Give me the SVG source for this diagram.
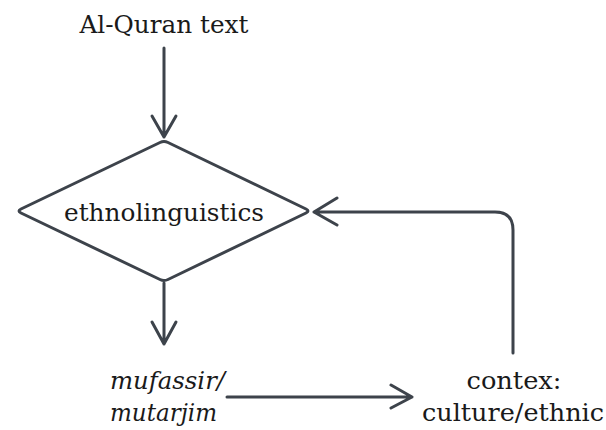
<svg xmlns="http://www.w3.org/2000/svg" width="606" height="430" viewBox="0 0 606 430">
<style>
.c{fill:none;stroke:#3d434b;stroke-width:3;stroke-linecap:round;stroke-linejoin:round}
text{font-family:'DejaVu Serif',serif;font-size:24px;fill:#1a1a1a}
.i{font-style:italic}
</style>
<rect width="606" height="430" fill="#fff"/>
<g id="quran"><text x="164" y="33" text-anchor="middle" textLength="169" lengthAdjust="spacingAndGlyphs">Al-Quran text</text></g>
<g id="ethno">
<path class="c" d="M160,142.5 Q164,140.5 168,142.5 L306,209 Q310,211 306,213 L168,279.5 Q164,281.5 160,279.5 L21,213 Q17,211 21,209 Z"/>
<text x="164" y="221" text-anchor="middle" textLength="200" lengthAdjust="spacingAndGlyphs">ethnolinguistics</text>
</g>
<g id="mufassir">
<text class="i" x="110" y="389" textLength="115" lengthAdjust="spacingAndGlyphs">mufassir/</text>
<text class="i" x="110" y="421" textLength="107" lengthAdjust="spacingAndGlyphs">mutarjim</text>
</g>
<g id="contex">
<text x="514" y="389" text-anchor="middle" textLength="95" lengthAdjust="spacingAndGlyphs">contex:</text>
<text x="513" y="421" text-anchor="middle" textLength="182" lengthAdjust="spacingAndGlyphs">culture/ethnic</text>
</g>
<g id="connectors">
<path class="c" d="M164,48 V137 M152,116 L164,137 L176,116"/>
<path class="c" d="M164,283 V344 M152,322 L164,344 L176,322"/>
<path class="c" d="M227,397 H412 M391,385 L412,397 L391,408"/>
<path class="c" d="M513,353 V230 Q513,212 495,212 H314 M337,198 L314,212 L337,225"/>
</g>
</svg>
